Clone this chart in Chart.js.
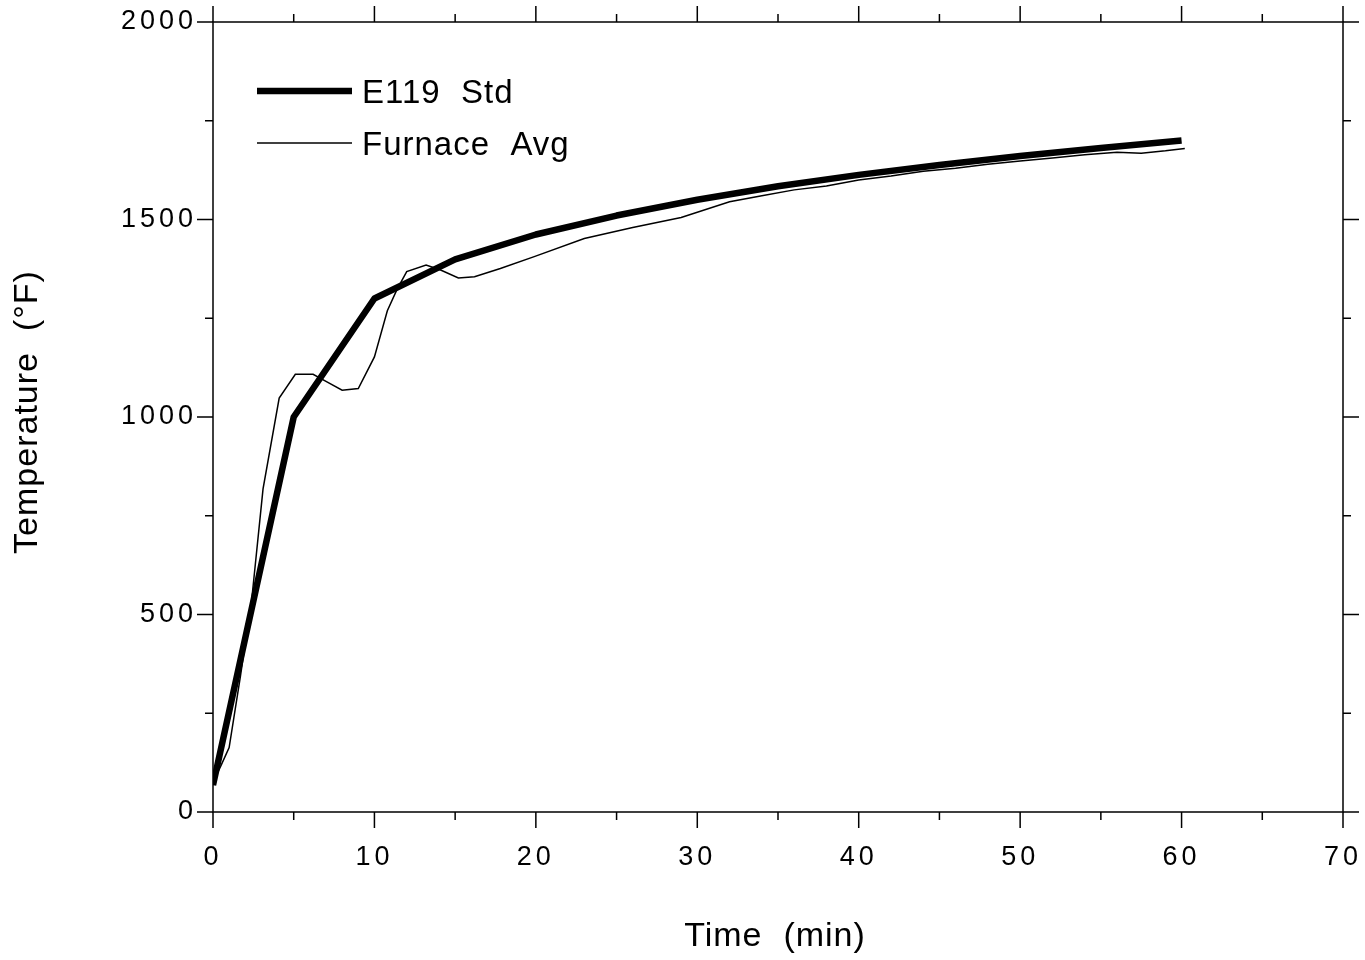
<!DOCTYPE html>
<html>
<head>
<meta charset="utf-8">
<title>E119 Std vs Furnace Avg</title>
<script src="https://cdn.jsdelivr.net/npm/chart.js@4.4.1/dist/chart.umd.min.js"></script>
<style>
  html, body { margin: 0; padding: 0; background: #fff; }
  #wrap { width: 1365px; height: 960px; }
</style>
</head>
<body>
<div id="wrap"><canvas id="tempChart"></canvas></div>
<script>
// ASTM E119 standard time-temperature curve (min, °F)
const stdTime = [0, 5, 10, 15, 20, 25, 30, 35, 40, 45, 50, 55, 60];
const stdTemp = [68, 1000, 1300, 1399, 1462, 1510, 1550, 1584, 1613, 1638, 1661, 1681, 1700];

// furnace average
const furnaceTime = [0, 0.5, 1, 1.7, 2.4, 3.1, 4.1, 5.1, 6.2, 7, 8, 9, 10, 10.8, 11.4, 12, 13.2, 14.1,
  15.2, 16.2, 17.8, 19.9, 23, 26, 29, 32, 34, 36, 38, 40, 42, 44, 46, 48, 50, 52, 54, 56, 57.5, 59, 60.2];
const furnaceTemp = [75, 118, 163, 344, 538, 818, 1048, 1108, 1108, 1090, 1068, 1072, 1152, 1269, 1323, 1368, 1385, 1372,
  1352, 1355, 1376, 1406, 1452, 1480, 1505, 1545, 1560, 1575, 1585, 1600, 1610, 1622, 1630, 1640, 1648, 1656, 1664, 1670, 1668, 1674, 1680];

const xTicks = [0, 10, 20, 30, 40, 50, 60, 70];
const yTicks = [0, 500, 1000, 1500, 2000];

const FONT = '"Liberation Sans", Arial, Helvetica, sans-serif';

function toPoints(xs, ys) {
  return xs.map((x, i) => ({ x: x, y: ys[i] }));
}

// no label overhang padding, so the plot box stays where we put it
function noOverhang(scale) {
  scale.paddingLeft = 0;
  scale.paddingRight = 0;
  scale.paddingTop = 0;
  scale.paddingBottom = 0;
}

// frame with outward ticks on all four sides, plus axis titles and legend
const framePlugin = {
  id: 'frameTicks',
  beforeDraw(chart) {
    chart.ctx.letterSpacing = '4px';
  },
  afterDraw(chart) {
    const ctx = chart.ctx;
    const a = chart.chartArea;
    const xs = chart.scales.x;
    const ys = chart.scales.y;
    ctx.save();
    ctx.letterSpacing = '0px';
    ctx.strokeStyle = '#000';
    ctx.lineWidth = 1.5;
    ctx.beginPath();
    ctx.rect(a.left, a.top, a.right - a.left, a.bottom - a.top);
    ctx.stroke();

    ctx.beginPath();
    for (let v = 0; v <= 70; v += 5) {
      const px = xs.getPixelForValue(v);
      const len = v % 10 === 0 ? 16 : 8;
      ctx.moveTo(px, a.bottom); ctx.lineTo(px, a.bottom + len);
      ctx.moveTo(px, a.top); ctx.lineTo(px, a.top - len);
    }
    for (let v = 0; v <= 2000; v += 250) {
      const py = ys.getPixelForValue(v);
      const len = v % 500 === 0 ? 16 : 8;
      ctx.moveTo(a.left, py); ctx.lineTo(a.left - len, py);
      ctx.moveTo(a.right, py); ctx.lineTo(a.right + len, py);
    }
    ctx.stroke();

    // axis titles
    ctx.fillStyle = '#000';
    ctx.font = '34px ' + FONT;
    ctx.textAlign = 'center';
    ctx.textBaseline = 'middle';
    ctx.letterSpacing = '1px';
    ctx.fillText('Time  (min)', 775, 937);
    ctx.save();
    ctx.translate(28, 412);
    ctx.rotate(-Math.PI / 2);
    ctx.fillText('Temperature  (°F)', 0, 0);
    ctx.restore();

    // legend
    ctx.font = '33px ' + FONT;
    ctx.textAlign = 'left';
    ctx.letterSpacing = '1px';
    chart.data.datasets.forEach((ds, i) => {
      const y = 91 + i * 52;
      ctx.lineWidth = ds.borderWidth;
      ctx.beginPath();
      ctx.moveTo(257, y);
      ctx.lineTo(352, y);
      ctx.stroke();
      ctx.fillText(ds.label, 362, y + 3);
    });
    ctx.restore();
  }
};

new Chart(document.getElementById('tempChart'), {
  type: 'line',
  data: {
    datasets: [
      {
        label: 'E119  Std',
        data: toPoints(stdTime, stdTemp),
        borderColor: '#000',
        borderWidth: 6.5,
        pointRadius: 0,
        tension: 0,
        borderJoinStyle: 'round'
      },
      {
        label: 'Furnace  Avg',
        data: toPoints(furnaceTime, furnaceTemp),
        borderColor: '#000',
        borderWidth: 1.5,
        pointRadius: 0,
        tension: 0
      }
    ]
  },
  options: {
    responsive: true,
    maintainAspectRatio: false,
    animation: false,
    layout: { padding: { top: 22, right: 22, left: 0, bottom: 0 } },
    plugins: {
      legend: { display: false },
      tooltip: { enabled: false }
    },
    scales: {
      x: {
        type: 'linear',
        min: 0,
        max: 70,
        grid: { display: false, drawTicks: false },
        border: { display: false },
        afterFit(scale) { scale.height = 148; noOverhang(scale); },
        afterBuildTicks(scale) { scale.ticks = xTicks.map(v => ({ value: v })); },
        ticks: {
          color: '#000',
          padding: 29,
          maxRotation: 0,
          font: { family: FONT, size: 27 },
          callback: v => String(v)
        }
      },
      y: {
        min: 0,
        max: 2000,
        grid: { display: false, drawTicks: false },
        border: { display: false },
        afterFit(scale) { scale.width = 213; noOverhang(scale); },
        afterBuildTicks(scale) { scale.ticks = yTicks.map(v => ({ value: v })); },
        ticks: {
          color: '#000',
          padding: 16,
          font: { family: FONT, size: 27 },
          callback: v => String(v)
        }
      }
    }
  },
  plugins: [framePlugin]
});
</script>
</body>
</html>
